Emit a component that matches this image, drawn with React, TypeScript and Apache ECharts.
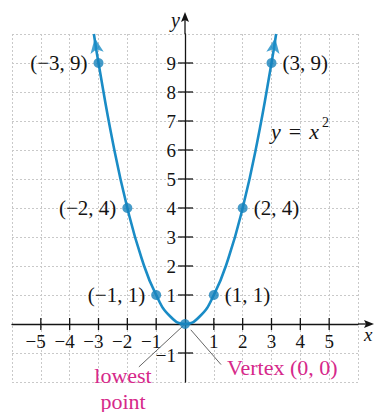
import React, { useEffect, useRef } from "react";
import * as echarts from "echarts";

// Labelled points of y = x^2
const pointXs = [-3, -2, -1, 0, 1, 2, 3];
const pointYs = [9, 4, 1, 0, 1, 4, 9];
const pointLabels = ["(−3, 9)", "(−2, 4)", "(−1, 1)", "", "(1, 1)", "(2, 4)", "(3, 9)"];
const pointLabelSides = ["left", "left", "left", "left", "right", "right", "right"];

// Curve points read along the drawn parabola
const curveXs = [-3.16, -3, -2.5, -2, -1.5, -1, -0.5, 0, 0.5, 1, 1.5, 2, 2.5, 3, 3.16];
const curveYs = [10, 9, 6.25, 4, 2.25, 1, 0.25, 0, 0.25, 1, 2.25, 4, 6.25, 9, 10];

// Arrow heads at the curve ends
const arrowXs = [-3.13, 3.13];
const arrowYs = [9.86, 9.86];
const arrowRotations = [9, -9];

// Tick labels
const xTickValues = [-5, -4, -3, -2, -1, 1, 2, 3, 4, 5];
const yTickValues = [-1, 1, 2, 3, 4, 5, 6, 7, 8, 9];

// Axis / grid ranges
const xRange = [-6, 6];
const yRange = [-2, 10];

// Leader lines for annotations [x1, y1, x2, y2]
const leaderLowest = [-0.05, -0.05, -1.6, -1.48];
const leaderVertex = [0.2, -0.2, 1.25, -1.4];

const FONT = "'Liberation Serif', 'DejaVu Serif', 'Times New Roman', serif";
const INK = "#141414";
const BLUE = "#1a8cc6";
const DOT = "#1682bc";
const MAGENTA = "#d6288a";

const minus = (v: number) => (v < 0 ? `−${-v}` : `${v}`);

export default function App() {
  const ref = useRef<HTMLDivElement>(null);

  useEffect(() => {
    document.body.style.margin = "0";
    const chart = echarts.init(ref.current!, null, { renderer: "svg" });

    chart.setOption({
      animation: false,
      backgroundColor: "#ffffff",
      grid: { left: 12, right: 16, top: 34, bottom: 30, containLabel: false, outerBoundsMode: "none" },
      xAxis: {
        type: "value",
        min: xRange[0],
        max: xRange[1],
        interval: 1,
        axisLine: { show: true, onZero: true, lineStyle: { color: INK, width: 1.3 } },
        axisTick: { show: false },
        splitLine: { show: true, lineStyle: { color: "#c9c9c9", type: [2, 2], width: 1 } },
        axisLabel: { show: false },
      },
      yAxis: {
        type: "value",
        min: yRange[0],
        max: yRange[1],
        interval: 1,
        axisLine: { show: true, onZero: true, lineStyle: { color: INK, width: 1.3 } },
        axisTick: { show: false },
        splitLine: { show: true, lineStyle: { color: "#c9c9c9", type: [2, 2], width: 1 } },
        axisLabel: { show: false },
      },
      series: [
        {
          type: "line",
          data: curveXs.map((x, i) => [x, curveYs[i]]),
          smooth: true,
          showSymbol: false,
          lineStyle: { color: BLUE, width: 2.6 },
          z: 3,
          markLine: {
            silent: true,
            symbol: ["none", "none"],
            label: { show: false },
            lineStyle: { color: "#666", width: 1, type: "solid" },
            data: [
              [
                { coord: [leaderLowest[0], leaderLowest[1]] },
                { coord: [leaderLowest[2], leaderLowest[3]] },
              ],
              [
                { coord: [leaderVertex[0], leaderVertex[1]] },
                { coord: [leaderVertex[2], leaderVertex[3]] },
              ],
            ],
          },
        },
        {
          type: "scatter",
          symbol: "arrow",
          symbolSize: [10, 15],
          itemStyle: { color: BLUE },
          z: 4,
          data: arrowXs.map((x, i) => ({ value: [x, arrowYs[i]], symbolRotate: arrowRotations[i] })),
        },
        {
          type: "scatter",
          symbolSize: 10,
          itemStyle: { color: DOT },
          z: 5,
          data: pointXs.map((x, i) => ({
            value: [x, pointYs[i]],
            label: { position: pointLabelSides[i] },
          })),
          label: {
            show: true,
            distance: 6,
            fontFamily: FONT,
            fontSize: 21,
            color: INK,
            opacity: 1,
            textBorderWidth: 0,
            formatter: (p: any) => pointLabels[p.dataIndex],
          },
        },
      ],
    });

    const px = (x: number, y: number) => chart.convertToPixel({ gridIndex: 0 }, [x, y]) as number[];
    const [ox, oy] = px(0, 0);
    const xEnd = px(xRange[1], 0);
    const yTop = px(0, yRange[1]);

    const lineStyle = { stroke: INK, lineWidth: 1.3 };
    const graphics: any[] = [];

    // axis extensions with arrowheads
    graphics.push({ type: "line", shape: { x1: xEnd[0], y1: oy, x2: 368, y2: oy }, style: lineStyle, z: 10 });
    graphics.push({
      type: "polygon",
      shape: { points: [[374, oy], [364, oy - 4], [366, oy], [364, oy + 4]] },
      style: { fill: INK },
      z: 10,
    });
    graphics.push({ type: "line", shape: { x1: ox, y1: yTop[1], x2: ox, y2: 18 }, style: lineStyle, z: 10 });
    graphics.push({
      type: "polygon",
      shape: { points: [[ox, 12], [ox - 4, 22], [ox, 20], [ox + 4, 22]] },
      style: { fill: INK },
      z: 10,
    });

    // crossing ticks and tick labels
    xTickValues.forEach((v) => {
      const [tx] = px(v, 0);
      graphics.push({ type: "line", shape: { x1: tx, y1: oy - 6, x2: tx, y2: oy + 6 }, style: lineStyle, z: 10 });
      graphics.push({
        type: "text",
        x: v < 0 ? tx + 5 : tx,
        y: oy + 17,
        style: {
          text: minus(v),
          font: `19px ${FONT}`,
          fill: INK,
          align: v < 0 ? "right" : "center",
          verticalAlign: "middle",
        },
        z: 10,
      });
    });
    yTickValues.forEach((v) => {
      const [, ty] = px(0, v);
      graphics.push({ type: "line", shape: { x1: ox - 7, y1: ty, x2: ox + 8, y2: ty }, style: lineStyle, z: 10 });
      graphics.push({
        type: "text",
        x: ox - 9,
        y: v < 0 ? ty + 2 : ty,
        style: { text: minus(v), font: `19px ${FONT}`, fill: INK, align: "right", verticalAlign: "middle" },
        z: 10,
      });
    });

    // axis names
    graphics.push({
      type: "text",
      x: ox - 5,
      y: 20,
      style: { text: "y", font: `italic 20px ${FONT}`, fill: INK, align: "right", verticalAlign: "middle" },
      z: 10,
    });
    graphics.push({
      type: "text",
      x: 364,
      y: oy + 10,
      style: { text: "x", font: `italic 19px ${FONT}`, fill: INK, align: "left", verticalAlign: "middle" },
      z: 10,
    });

    // equation label
    graphics.push({
      type: "text",
      x: 271,
      y: 131,
      style: {
        text: "{i|y}{e|=}{i|x}",
        fill: INK,
        font: `22px ${FONT}`,
        align: "left",
        verticalAlign: "middle",
        rich: {
          i: { fontStyle: "italic", fontSize: 22, fontFamily: FONT, fill: INK },
          e: { fontSize: 22, fontFamily: FONT, fill: INK, padding: [0, 8, 0, 8] },
        },
      },
      z: 10,
    });
    graphics.push({
      type: "text",
      x: 322,
      y: 122,
      style: { text: "2", font: `14px ${FONT}`, fill: INK, align: "left", verticalAlign: "middle" },
      z: 10,
    });

    // annotations
    graphics.push({
      type: "text",
      x: 123,
      y: 375,
      style: { text: "lowest", font: `22px ${FONT}`, fill: MAGENTA, align: "center", verticalAlign: "middle" },
      z: 10,
    });
    graphics.push({
      type: "text",
      x: 123,
      y: 401,
      style: { text: "point", font: `22px ${FONT}`, fill: MAGENTA, align: "center", verticalAlign: "middle" },
      z: 10,
    });
    graphics.push({
      type: "text",
      x: 227,
      y: 367,
      style: { text: "Vertex (0, 0)", font: `22px ${FONT}`, fill: MAGENTA, align: "left", verticalAlign: "middle" },
      z: 10,
    });

    chart.setOption({ graphic: graphics });

    return () => chart.dispose();
  }, []);

  return (
    <div
      ref={ref}
      style={{ position: "absolute", left: 0, top: 0, width: 374, height: 412, background: "#fff" }}
    />
  );
}
